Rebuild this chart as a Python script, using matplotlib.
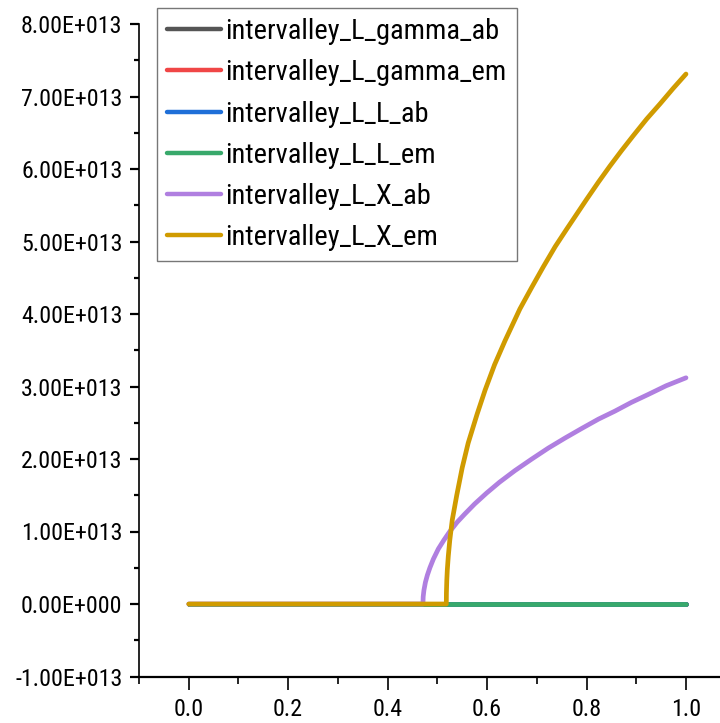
import matplotlib
matplotlib.use("Agg")
import matplotlib.pyplot as plt
from matplotlib import font_manager as fm
from matplotlib.ticker import MultipleLocator, FuncFormatter

# pick a narrow sans font if one is installed (reference text is tall and narrow)
_names = {f.name for f in fm.fontManager.ttflist}
_narrow = None
for cand in ["Liberation Sans Narrow", "Arial Narrow", "Roboto Condensed",
             "Open Sans Condensed"]:
    if cand in _names:
        _narrow = cand
        break
if _narrow is not None:
    FAMILY = [_narrow, 'DejaVu Sans']
    TICK_FS, LEG_FS = 17.3, 20.4
else:
    FAMILY = ['Liberation Sans', 'DejaVu Sans']
    TICK_FS, LEG_FS = 14.5, 18
plt.rcParams['font.family'] = FAMILY

# series labels and colours
labels = ["intervalley_L_gamma_ab", "intervalley_L_gamma_em", "intervalley_L_L_ab",
          "intervalley_L_L_em", "intervalley_L_X_ab", "intervalley_L_X_em"]
colors = ["#555555", "#f04646", "#1f6fd8", "#38a96b", "#b07fe0", "#d09b00"]

# zero series
x_zero = [0.0, 1.0]
y_zero = [0.0, 0.0]

# intervalley_L_X_ab (units 1e13)
x_ab = [0.0, 0.471, 0.4715, 0.473, 0.476, 0.480, 0.485, 0.492, 0.502, 0.513, 0.525,
        0.540, 0.555, 0.575, 0.599, 0.625, 0.656, 0.690, 0.723, 0.757, 0.790,
        0.824, 0.857, 0.890, 0.924, 0.960, 1.0]
y_ab = [0.0, 0.0, 0.10, 0.19, 0.30, 0.40, 0.50, 0.62, 0.76, 0.88, 1.00,
        1.13, 1.24, 1.38, 1.53, 1.68, 1.84, 2.00, 2.15, 2.29, 2.42,
        2.55, 2.66, 2.78, 2.89, 3.01, 3.12]

# intervalley_L_X_em (units 1e13)
x_em = [0.0, 0.518, 0.5182, 0.519, 0.520, 0.522, 0.525, 0.530, 0.539, 0.550, 0.562,
        0.580, 0.596, 0.615, 0.636, 0.666, 0.690, 0.713, 0.737, 0.760, 0.800,
        0.824, 0.847, 0.870, 0.894, 0.921, 0.948, 0.974, 1.0]
y_em = [0.0, 0.0, 0.15, 0.33, 0.47, 0.66, 0.88, 1.16, 1.50, 1.88, 2.22,
        2.62, 2.95, 3.30, 3.63, 4.07, 4.37, 4.65, 4.93, 5.17, 5.58,
        5.82, 6.04, 6.25, 6.46, 6.69, 6.90, 7.11, 7.31]

scale = 1e13
series = [
    (x_zero, y_zero), (x_zero, y_zero), (x_zero, y_zero), (x_zero, y_zero),
    (x_ab, y_ab), (x_em, y_em),
]

fig = plt.figure(figsize=(7.2, 7.23), dpi=100)
ax = fig.add_axes([139/720, 1 - 676.5/723, 1 - 139/720, (676.5 - 24)/723])

for (xs, ys), lab, col in zip(series, labels, colors):
    ax.plot(xs, [v * scale for v in ys], color=col, lw=3.4, label=lab,
            solid_capstyle='round', solid_joinstyle='round')

ax.set_xlim(-0.1, (720 - 189) / 497.0)
ax.set_ylim(-1e13, 8e13)

ax.spines['top'].set_visible(False)
ax.spines['right'].set_visible(False)
ax.spines['left'].set_linewidth(1.2)
ax.spines['bottom'].set_linewidth(1.6)

ax.xaxis.set_major_locator(MultipleLocator(0.2))
ax.xaxis.set_minor_locator(MultipleLocator(0.1))
ax.yaxis.set_major_locator(MultipleLocator(1e13))
ax.yaxis.set_minor_locator(MultipleLocator(0.5e13))

def yfmt(v, pos):
    if abs(v) < 1:
        return "0.00E+000"
    return "%.2fE+013" % (v / 1e13)

ax.yaxis.set_major_formatter(FuncFormatter(yfmt))
ax.xaxis.set_major_formatter(FuncFormatter(lambda v, p: "%.1f" % v))

ax.tick_params(axis='y', which='major', direction='out', length=6.5, width=1.6,
               labelsize=TICK_FS, pad=5.4)
ax.tick_params(axis='y', which='minor', direction='out', length=3.6, width=1.6)
ax.tick_params(axis='x', which='major', direction='out', length=9.4, width=1.2,
               labelsize=TICK_FS, pad=6.4)
ax.tick_params(axis='x', which='minor', direction='out', length=5, width=1.2)

leg = ax.legend(loc='upper left', bbox_to_anchor=(157/720, 1 - 8/723),
                bbox_transform=fig.transFigure, fontsize=LEG_FS, frameon=True,
                fancybox=False, edgecolor='#555555', borderpad=0.36,
                labelspacing=0.5, handlelength=54 / (LEG_FS * 100 / 72),
                handletextpad=0.15, borderaxespad=0)
leg.get_frame().set_linewidth(1.0)
for h in leg.get_lines():
    h.set_linewidth(3.2)

fig.savefig("out.png", dpi=100)
